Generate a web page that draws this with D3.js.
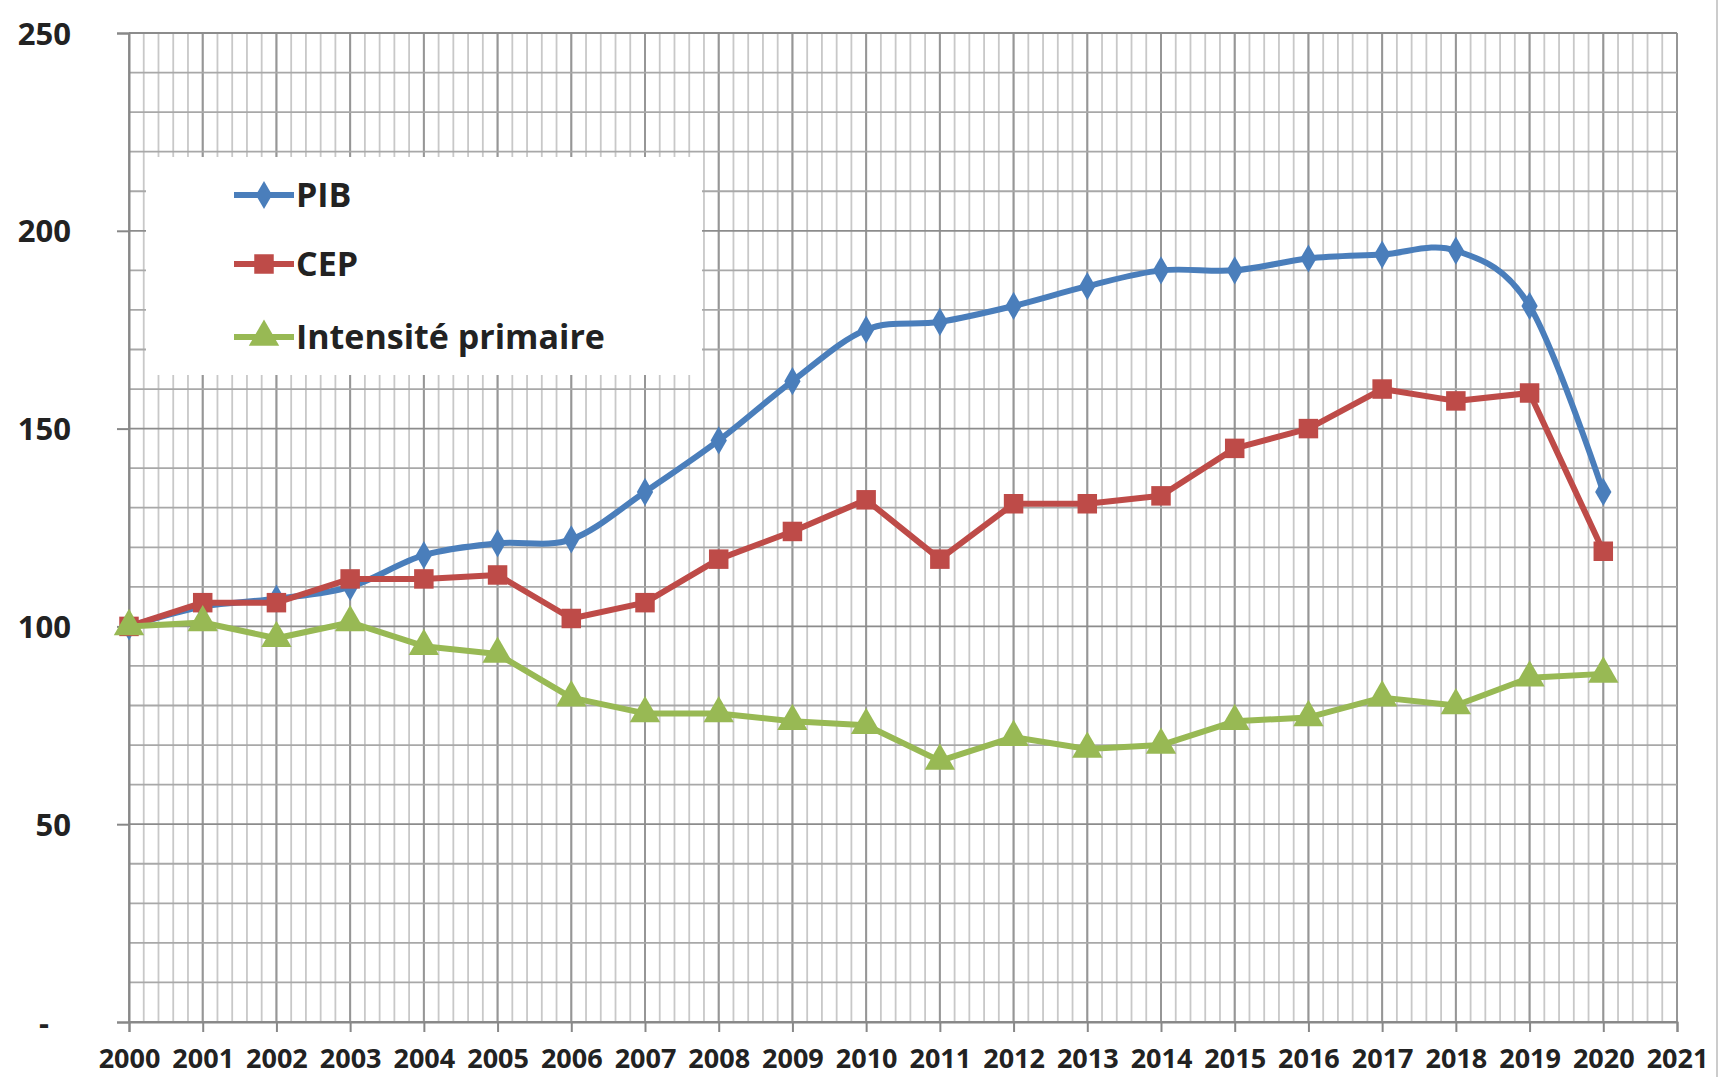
<!DOCTYPE html>
<html>
<head>
<meta charset="utf-8">
<script src="https://cdn.jsdelivr.net/npm/d3@7"></script>
<style>
html,body{margin:0;padding:0;background:#fff;}
svg{display:block;}
text{font-family:"Open Sans","DejaVu Sans",sans-serif;font-weight:700;fill:#222;}
</style>
</head>
<body>
<svg id="chart" width="1720" height="1077"></svg>
<script>
const years = [2000,2001,2002,2003,2004,2005,2006,2007,2008,2009,2010,2011,2012,2013,2014,2015,2016,2017,2018,2019,2020];
const pib = [100,105,107,110,118,121,122,134,147,162,175,177,181,186,190,190,193,194,195,181,134];
const cep = [100,106,106,112,112,113,102,106,117,124,132,117,131,131,133,145,150,160,157,159,119];
const intensite = [100,101,97,101,95,93,82,78,78,76,75,66,72,69,70,76,77,82,80,87,88];
const xTickLabels = [2000,2001,2002,2003,2004,2005,2006,2007,2008,2009,2010,2011,2012,2013,2014,2015,2016,2017,2018,2019,2020,2021];
const yTickValues = [0,50,100,150,200,250];
const seriesNames = ["PIB","CEP","Intensité primaire"];

const svg = d3.select("#chart");
const W = 1720, H = 1077;
svg.append("rect").attr("width",W).attr("height",H).attr("fill","#fff");

const x = d3.scaleLinear().domain([2000,2021]).range([129,1677]);
const y = d3.scaleLinear().domain([0,250]).range([1022,33]);

const grid = svg.append("g");
grid.selectAll("line.vmin").data(d3.range(0,21*5+1).map(i=>2000+i*0.2)).join("line")
  .attr("x1",d=>x(d)).attr("x2",d=>x(d)).attr("y1",y(250)).attr("y2",y(0))
  .attr("stroke","#c8c8c8").attr("stroke-width",1.8);
grid.selectAll("line.vmaj").data(xTickLabels).join("line")
  .attr("x1",d=>x(d)).attr("x2",d=>x(d)).attr("y1",y(250)).attr("y2",y(0))
  .attr("stroke","#969696").attr("stroke-width",2);
grid.selectAll("line.h").data(d3.range(0,251,10)).join("line")
  .attr("x1",x(2000)).attr("x2",x(2021)).attr("y1",d=>y(d)).attr("y2",d=>y(d))
  .attr("stroke",d=>d%50===0?"#8c8c8c":"#a8a8a8").attr("stroke-width",1.8);

const yAxis = d3.axisLeft(y).tickValues(yTickValues).tickSize(12).tickFormat(d=>d===0?"-":String(d));
const gy = svg.append("g").attr("transform",`translate(${x(2000)},0)`).call(yAxis);
gy.select(".domain").attr("stroke","#888").attr("stroke-width",2);
gy.selectAll(".tick line").attr("stroke","#888").attr("stroke-width",2);
gy.selectAll(".tick text").attr("font-size",31).attr("font-family","'Open Sans',sans-serif").attr("font-weight",700).attr("fill","#222").attr("x",-58).attr("dy","0.36em");
gy.selectAll(".tick").filter(d=>d===0).select("text").attr("x",-80);

const xAxis = d3.axisBottom(x).tickValues(xTickLabels).tickSize(10).tickFormat(d3.format("d"));
const gx = svg.append("g").attr("transform",`translate(0,${y(0)})`).call(xAxis);
gx.select(".domain").attr("stroke","#888").attr("stroke-width",2);
gx.selectAll(".tick line").attr("stroke","#888").attr("stroke-width",2);
gx.selectAll(".tick text").attr("font-size",27).attr("font-family","'Open Sans',sans-serif").attr("font-weight",700).attr("fill","#222").attr("y",27);

const colors = ["#4a7ebb","#be4b48","#98b954"];
const datasets = [pib,cep,intensite];
const curves = [d3.curveCatmullRom.alpha(0), d3.curveLinear, d3.curveLinear];
const symbols = [d3.symbolDiamond, d3.symbolSquare, d3.symbolTriangle];
const symSizes = [230, 380, 400];

datasets.forEach((vals,i)=>{
  const line = d3.line().x((d,j)=>x(years[j])).y(d=>y(d)).curve(curves[i]);
  svg.append("path").datum(vals).attr("d",line).attr("fill","none")
    .attr("stroke",colors[i]).attr("stroke-width",6).attr("stroke-linejoin","round");
  svg.append("g").selectAll("path").data(vals).join("path")
    .attr("d",d3.symbol().type(symbols[i]).size(symSizes[i]))
    .attr("transform",(d,j)=>`translate(${x(years[j])},${y(d)})`)
    .attr("fill",colors[i]);
});

const lg = svg.append("g");
lg.append("rect").attr("x",146).attr("y",157).attr("width",556).attr("height",218).attr("fill","#fff");
const legY = [195,264,337];
seriesNames.forEach((name,i)=>{
  lg.append("line").attr("x1",234).attr("x2",294).attr("y1",legY[i]).attr("y2",legY[i])
    .attr("stroke",colors[i]).attr("stroke-width",6);
  lg.append("path").attr("d",d3.symbol().type(symbols[i]).size(symSizes[i])())
    .attr("transform",`translate(264,${legY[i]})`).attr("fill",colors[i]);
  lg.append("text").attr("x",296).attr("y",legY[i]).attr("dy","0.36em")
    .attr("font-size",34).text(name);
});

svg.append("line").attr("x1",1717).attr("x2",1717).attr("y1",0).attr("y2",H).attr("stroke","#ccc").attr("stroke-width",2);
</script>
</body>
</html>
